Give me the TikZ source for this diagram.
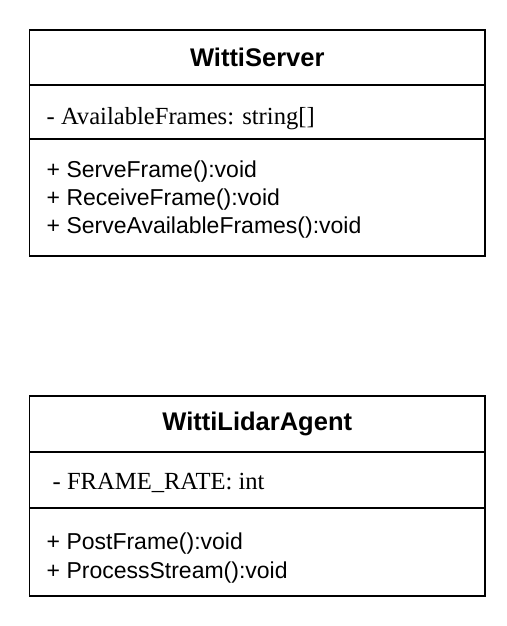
\documentclass[tikz,border=0pt]{standalone}
\usepackage{fontspec}
\setmainfont{Liberation Serif}
\setsansfont{Liberation Sans}
\usepackage{tikz}
\usetikzlibrary{positioning}

\begin{document}
\begin{tikzpicture}[x=1pt,y=-1pt,line width=1.4pt,
    compart/.style={draw, rectangle, minimum width=455.5pt, outer sep=0pt, inner sep=0pt},
    cname/.style={font=\sffamily\bfseries\fontsize{25.5}{30}\selectfont},
    cattr/.style={anchor=base west, inner sep=0pt, font=\rmfamily\fontsize{24.6}{28}\selectfont},
    cop/.style={anchor=base west, inner sep=0pt, font=\sffamily\fontsize{23}{28}\selectfont}]
    \useasboundingbox (0,0) rectangle (506,626);

    % WittiServer
    \node[compart, cname, minimum height=55pt, anchor=north west] (srvhead) at (29.5,30) {WittiServer};
    \node[compart, minimum height=54pt, below=0pt of srvhead] (srvattr) {};
    \node[compart, minimum height=117pt, below=0pt of srvattr] (srvops) {};
    \node[cattr] (srvframes) at (46,124) {- AvailableFrames: string[]};
    \node[cop] (srvop1) at (46,177) {+ ServeFrame():void};
    \node[cop] (srvop2) at (46,205) {+ ReceiveFrame():void};
    \node[cop] (srvop3) at (46,233) {+ ServeAvailableFrames():void};

    % WittiLidarAgent
    \node[compart, cname, minimum height=56pt, anchor=north west] (agthead) at (29.5,396) {WittiLidarAgent};
    \node[compart, minimum height=56pt, below=0pt of agthead] (agtattr) {};
    \node[compart, minimum height=88pt, below=0pt of agtattr] (agtops) {};
    \node[cattr] (agtrate) at (52,489) {- FRAME\_RATE: int};
    \node[cop] (agtop1) at (46,549) {+ PostFrame():void};
    \node[cop] (agtop2) at (46,578) {+ ProcessStream():void};
\end{tikzpicture}
\end{document}
